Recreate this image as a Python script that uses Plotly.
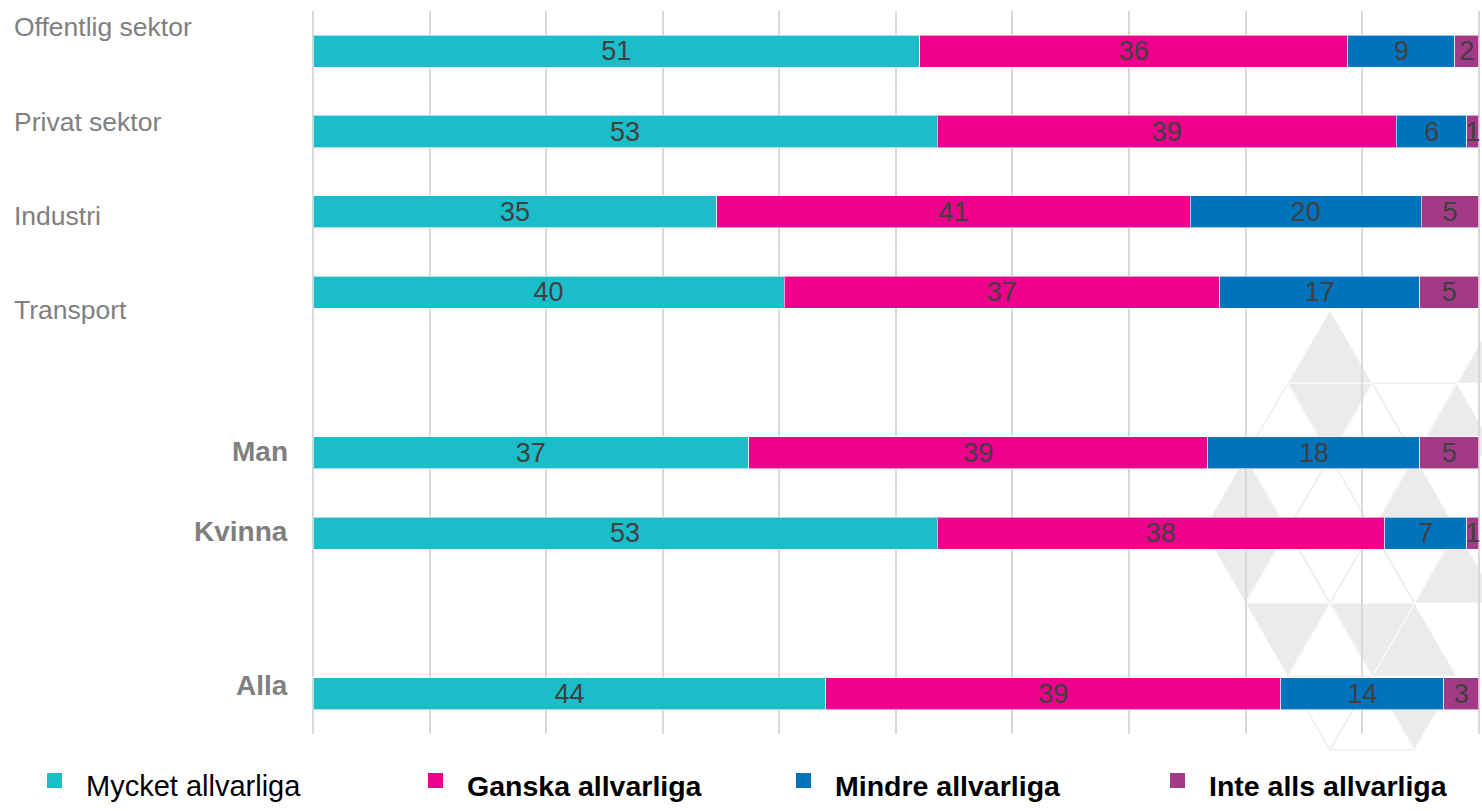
import plotly.graph_objects as go

# ---------------- data ----------------
categories = ["Offentlig sektor", "Privat sektor", "Industri", "Transport", "Man", "Kvinna", "Alla"]
groups = [4, 2, 1]  # number of categories in each visual group (gap between groups)
mycket = [51, 53, 35, 40, 37, 53, 44]
ganska = [36, 39, 41, 37, 39, 38, 39]
mindre = [9, 6, 20, 17, 18, 7, 14]
inte = [2, 1, 5, 5, 5, 1, 3]
series_names = ["Mycket allvarliga", "Ganska allvarliga", "Mindre allvarliga", "Inte alls allvarliga"]
series_values = [mycket, ganska, mindre, inte]
colors = ["#1BBDC9", "#EC008C", "#0073BD", "#A23A87"]

# ---------------- layout geometry ----------------
W, H = 1482, 811
ML, MR, MT, MB = 313, 3, 11, 77
PW, PH = W - ML - MR, H - MT - MB

# slot positions with one empty slot between groups
pos = []
s = 0
for g in groups:
    for _ in range(g):
        pos.append(s)
        s += 1
    s += 1
last_slot = pos[-1]

fig = go.Figure()
for name, vals, col in zip(series_names, series_values, colors):
    fig.add_trace(go.Bar(
        y=pos, x=vals, orientation="h", name=name,
        marker=dict(color=col, line=dict(color="rgba(255,255,255,0.6)", width=1)),
        width=0.4,
        text=[str(v) for v in vals], texttemplate="%{text}",
        textposition="inside", insidetextanchor="middle", textangle=0,
        constraintext="none",
        insidetextfont=dict(family="Liberation Sans, Arial", size=27, color="#404040"),
        showlegend=False, hoverinfo="x+y+name", cliponaxis=False,
    ))


def px2paper(px, py):
    return (px - ML) / PW, (H - MB - py) / PH


# ---------------- watermark (light triangles) ----------------
X0, Y0, RH, HW = 1330, 310, 73.3, 42.3


def tri(kind, r, c):
    if kind == "up":
        pts = [(X0 + c * HW, Y0 + r * RH), (X0 + (c - 1) * HW, Y0 + (r + 1) * RH), (X0 + (c + 1) * HW, Y0 + (r + 1) * RH)]
    else:
        pts = [(X0 + (c - 1) * HW, Y0 + r * RH), (X0 + (c + 1) * HW, Y0 + r * RH), (X0 + c * HW, Y0 + (r + 1) * RH)]
    pp = [px2paper(a, b) for a, b in pts]
    return "M{},{} L{},{} L{},{} Z".format(pp[0][0], pp[0][1], pp[1][0], pp[1][1], pp[2][0], pp[2][1])


filled = [("up", 0, 0), ("down", 1, 0), ("up", 0, 4), ("up", 1, 3), ("up", 2, -2), ("up", 2, 2),
          ("down", 3, -2), ("down", 4, -1), ("down", 4, 1), ("up", 4, 2), ("down", 5, 2), ("up", 3, 3)]
outlined = [("up", 1, -1), ("up", 1, 1), ("down", 1, 2), ("down", 2, -1), ("up", 2, 0), ("down", 2, 1),
            ("up", 3, -1), ("down", 3, 0), ("up", 3, 1), ("down", 3, 2), ("up", 4, 0),
            ("up", 5, 1), ("down", 5, 0)]
shapes = []
for k, r, c in outlined:
    shapes.append(dict(type="path", path=tri(k, r, c), xref="paper", yref="paper",
                       line=dict(color="#eeeeee", width=1.5), fillcolor="rgba(0,0,0,0)", layer="below"))
for k, r, c in filled:
    shapes.append(dict(type="path", path=tri(k, r, c), xref="paper", yref="paper",
                       line=dict(color="#ffffff", width=1), fillcolor="#ebebeb", layer="below"))

# left and right frame lines of the plot area (match gridline style)
for xv in (0, 1):
    shapes.append(dict(type="line", xref="paper", yref="paper", x0=xv, x1=xv, y0=0, y1=1,
                       line=dict(color="#d9d9d9", width=2), layer="below"))

# ---------------- category labels ----------------
annotations = []
label_shift = [24, 10, -4, -18, 1, 2, 8]  # px, label nudges relative to bar centre
for i, (cat, p) in enumerate(zip(categories, pos)):
    if i < groups[0]:
        annotations.append(dict(text=cat, x=px2paper(12, 0)[0], xref="paper", xanchor="left",
                                y=p, yref="y", yanchor="middle", yshift=label_shift[i], showarrow=False,
                                font=dict(family="Liberation Sans, Arial", size=26.5, color="#808080")))
    else:
        annotations.append(dict(text="<b>" + cat + "</b>", x=px2paper(290, 0)[0], xref="paper", xanchor="right",
                                y=p, yref="y", yanchor="middle", yshift=label_shift[i], showarrow=False,
                                font=dict(family="Liberation Sans, Arial", size=28, color="#808080")))

# ---------------- manual legend ----------------
legend_sq_x = [47, 428, 796, 1170]
for i, (name, col) in enumerate(zip(series_names, colors)):
    x0 = legend_sq_x[i]
    a0, b0 = px2paper(x0, 773)
    a1, b1 = px2paper(x0 + 15, 788)
    shapes.append(dict(type="rect", xref="paper", yref="paper", x0=a0, x1=a1, y0=b1, y1=b0,
                       fillcolor=col, line=dict(width=0)))
    tx, ty = px2paper(x0 + 37, 786)
    txt = name if i == 0 else "<b>" + name + "</b>"
    annotations.append(dict(text=txt, x=tx, y=ty, xref="paper", yref="paper", xanchor="left",
                            yanchor="middle", showarrow=False,
                            font=dict(family="Liberation Sans, Arial", size=29 if i == 0 else 28.5,
                                      color="#000000")))

fig.update_layout(
    width=W, height=H,
    margin=dict(l=ML, r=MR, t=MT, b=MB),
    barmode="stack", barnorm="percent",
    paper_bgcolor="white", plot_bgcolor="rgba(0,0,0,0)",
    xaxis=dict(range=[0, 100.02], tickvals=list(range(0, 101, 10)), showgrid=True, gridcolor="#d9d9d9",
               gridwidth=2, zeroline=False, showticklabels=False, showline=False, fixedrange=True),
    yaxis=dict(range=[last_slot + 0.5, -0.5], showgrid=False, zeroline=False, showticklabels=False,
               showline=False, fixedrange=True),
    shapes=shapes, annotations=annotations,
    showlegend=False,
)

fig.write_html("out.html", config={"displayModeBar": False},
               post_script="document.body.style.margin='0';document.body.style.overflow='hidden';")
